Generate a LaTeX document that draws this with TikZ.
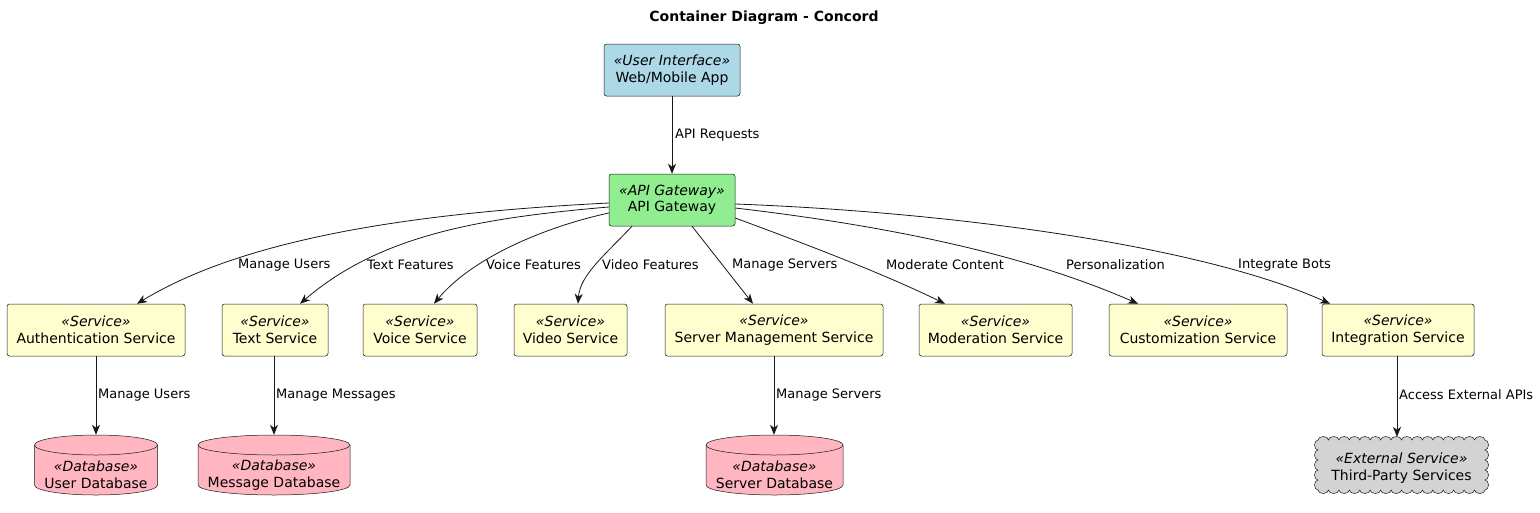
\documentclass[tikz,border=0pt]{standalone}
\usepackage{fontspec}
\setmainfont{DejaVu Sans}
\usetikzlibrary{arrows.meta}
\definecolor{uicol}{HTML}{ADD8E6}
\definecolor{gwcol}{HTML}{90EE90}
\definecolor{svccol}{HTML}{FEFECE}
\definecolor{dbcol}{HTML}{FFB6C1}
\definecolor{extcol}{HTML}{D3D3D3}
\definecolor{linec}{HTML}{181818}
\tikzset{
  box/.style={draw=linec, line width=0.5pt, rounded corners=2.5pt, align=center,
    font=\fontsize{14}{16.5}\selectfont, inner sep=0pt, minimum height=52pt},
  svc/.style={box, fill=svccol},
  dbbody/.style={draw=linec, line width=0.5pt, fill=dbcol},
  dbtext/.style={align=center, font=\fontsize{14}{16.5}\selectfont, inner sep=0pt, minimum height=80pt},
  lbl/.style={font=\fontsize{13}{15}\selectfont, inner sep=0pt},
  arr/.style={draw=linec, line width=0.8pt, -{Stealth[length=10pt,width=8pt,inset=3pt]}}
}
\newcommand\mydb[5]{% name, cx, top, halfwidth, text
  \path[dbbody] (#2-#4,#3+10) -- (#2-#4,#3+50)
    arc[start angle=180,end angle=360,x radius=#4pt,y radius=10pt]
    -- (#2+#4,#3+10)
    arc[start angle=0,end angle=180,x radius=#4pt,y radius=10pt] -- cycle;
  \draw[line width=0.5pt, draw=linec] (#2-#4,#3+10)
    arc[start angle=180,end angle=360,x radius=#4pt,y radius=10pt];
  \node[dbtext, minimum width=2*#4pt] (#1) at (#2,#3+40) {#5};
}
\begin{document}
\begin{tikzpicture}[x=1pt,y=-1pt]
\useasboundingbox[fill=white] (0,0) rectangle (1540,512);

\node[font=\fontsize{14}{16}\selectfont\bfseries] (title) at (764,18) {Container Diagram - Concord};

\node[box, fill=uicol, minimum width=136pt] (web) at (672,70) {{\itshape «User Interface»}\\Web/Mobile App};
\node[box, fill=gwcol, minimum width=126pt] (gw) at (672,200) {{\itshape «API Gateway»}\\API Gateway};

\node[svc, minimum width=178pt] (auth) at (96,330) {{\itshape «Service»}\\Authentication Service};
\node[svc, minimum width=106pt] (text) at (275,330) {{\itshape «Service»}\\Text Service};
\node[svc, minimum width=114pt] (voice) at (420,330) {{\itshape «Service»}\\Voice Service};
\node[svc, minimum width=113pt] (video) at (570.5,330) {{\itshape «Service»}\\Video Service};
\node[svc, minimum width=218pt] (srv) at (774,330) {{\itshape «Service»}\\Server Management Service};
\node[svc, minimum width=153pt] (mod) at (995.5,330) {{\itshape «Service»}\\Moderation Service};
\node[svc, minimum width=178pt] (cust) at (1198,330) {{\itshape «Service»}\\Customization Service};
\node[svc, minimum width=152pt] (integ) at (1398,330) {{\itshape «Service»}\\Integration Service};

\mydb{udb}{96}{435}{61.5}{{\itshape «Database»}\\User Database}
\mydb{mdb}{274}{435}{76}{{\itshape «Database»}\\Message Database}
\mydb{sdb}{774.5}{435}{68.5}{{\itshape «Database»}\\Server Database}

% cloud outline (scalloped rounded rectangle)
\path[draw=linec, line width=0.5pt, fill=extcol] (1318,440)
  \foreach \i in {1,...,16} { arc[start angle=180, end angle=0, x radius=5.21875pt, y radius=3.5pt] }
  \foreach \i in {1,...,5} { arc[start angle=90, end angle=-90, x radius=3.5pt, y radius=5pt] }
  \foreach \i in {1,...,16} { arc[start angle=0, end angle=-180, x radius=5.21875pt, y radius=3.5pt] }
  \foreach \i in {1,...,5} { arc[start angle=270, end angle=90, x radius=3.5pt, y radius=5pt] }
  -- cycle;
\node[minimum width=167pt, minimum height=62pt, inner sep=0pt, align=center,
  font=\fontsize{14}{16.5}\selectfont] (ext) at (1401.5,468) {{\itshape «External Service»}\\Third-Party Services};

% web -> gateway
\draw[arr] (web.south) -- (gw.north);
\node[lbl, anchor=west] (lapi) at (675,135) {API Requests};

% gateway -> services
\draw[arr] (gw.west |- 0,203) .. controls (430,212) and (250,235) .. (auth.north -| 137,0);
\draw[arr] (gw.west |- 0,207) .. controls (480,218) and (380,235) .. (text.north -| 300,0);
\draw[arr] (gw.west |- 0,213) .. controls (540,228) and (470,260) .. (voice.north -| 434,0);
\draw[arr] (gw.south -| 632,0) .. controls (605,255) and (580,275) .. (video.north -| 578,0);
\draw[arr] (gw.south -| 692,0) -- (srv.north -| 753,0);
\draw[arr] (gw.east |- 0,218) .. controls (800,242) and (880,272) .. (mod.north -| 945,0);
\draw[arr] (gw.east |- 0,208) .. controls (880,225) and (1020,252) .. (cust.north -| 1138,0);
\draw[arr] (gw.east |- 0,204) .. controls (950,212) and (1200,245) .. (integ.north -| 1330,0);

\node[lbl, anchor=west] (l1) at (238,265) {Manage Users};
\node[lbl, anchor=west] (l2) at (367,265) {Text Features};
\node[lbl, anchor=west] (l3) at (486,265) {Voice Features};
\node[lbl, anchor=west] (l4) at (602,265) {Video Features};
\node[lbl, anchor=west] (l5) at (732,265) {Manage Servers};
\node[lbl, anchor=west] (l6) at (886,265) {Moderate Content};
\node[lbl, anchor=west] (l7) at (1066,265) {Personalization};
\node[lbl, anchor=west] (l8) at (1238,265) {Integrate Bots};

% services -> stores
\draw[arr] (auth.south) -- (auth.south |- udb.north);
\node[lbl, anchor=west] (l9) at (98,395) {Manage Users};
\draw[arr] (text.south -| mdb.north) -- (mdb.north);
\node[lbl, anchor=west] (l10) at (276,395) {Manage Messages};
\draw[arr] (srv.south) -- (sdb.north -| srv.south);
\node[lbl, anchor=west] (l11) at (776,395) {Manage Servers};
\draw[arr] (integ.south -| 1397,0) -- (ext.north -| 1397,0);
\node[lbl, anchor=west] (l12) at (1399,395) {Access External APIs};
\end{tikzpicture}
\end{document}
